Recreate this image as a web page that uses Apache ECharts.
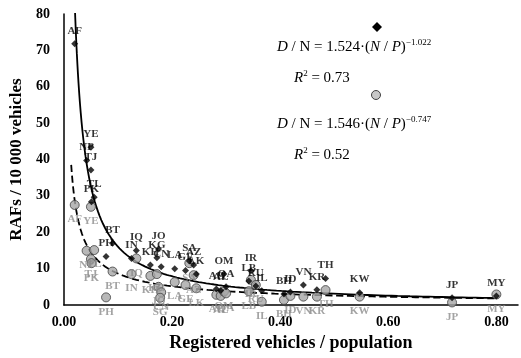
<!DOCTYPE html>
<html>
<head>
<meta charset="utf-8">
<script src="https://cdn.jsdelivr.net/npm/echarts@6/dist/echarts.min.js"></script>
<style>
  html, body { margin: 0; padding: 0; background: #fff; }
  #main { width: 521px; height: 358px; }
</style>
</head>
<body>
<div id="main"></div>
<script>
// country codes, vehicles per person, reported RAFs (black) and estimated (grey)
const codes = ['AF', 'YE', 'NP', 'TJ', 'TL', 'PK', 'BT', 'PH', 'IQ', 'IN', 'KH', 'JO', 'KG', 'CN', 'SG', 'LA', 'GE', 'SA', 'AZ', 'LK',
    'AE', 'AL', 'OM', 'QA', 'LB', 'IR', 'RU', 'IL', 'BH', 'ID', 'VN', 'KR', 'TH', 'KW', 'JP', 'MY']
const ratio = [0.020, 0.050, 0.042, 0.050, 0.056, 0.051, 0.090, 0.078, 0.134, 0.125, 0.160, 0.175, 0.172, 0.180, 0.178, 0.205, 0.225, 0.232, 0.240, 0.245,
    0.282, 0.290, 0.296, 0.300, 0.342, 0.346, 0.355, 0.366, 0.407, 0.419, 0.443, 0.468, 0.484, 0.547, 0.718, 0.800]
const rafBlack = [71.8, 43.4, 39.7, 37.1, 29.6, 28.4, 17.0, 13.3, 15.0, 12.8, 11.0, 15.4, 13.0, 10.5, null, 10.0, 9.5, 12.1, 11.0, 8.5,
    4.4, 4.0, 8.5, 5.0, 6.6, 9.4, 5.2, 3.9, 3.0, 3.6, 5.5, 4.2, 7.3, 3.4, 2.0, 2.5]
const rafGrey = [27.5, 27.0, 14.9, 12.6, 15.1, 11.5, 9.2, 2.1, 12.8, 8.5, 8.0, 5.0, 8.5, 3.5, 2.0, 6.3, 5.5, 11.5, 8.2, 4.6,
    2.8, 2.5, 3.7, 3.2, 3.8, 6.9, 5.5, 0.9, 1.4, 2.5, 2.3, 2.3, 4.1, 2.3, 0.7, 2.9]

// fitted power curves D/N = a * (N/P)^b
const fitBlack = { a: 1.524, b: -1.022, from: 0.0205 }
const fitGrey = { a: 1.546, b: -0.747, from: 0.0135 }

function curve(fit) {
    const pts = []
    const n = 120
    for (let i = 0; i <= n; i++) {
        // denser near the left where the curve is steep
        const t = i / n
        const x = fit.from + (0.8 - fit.from) * t * t
        pts.push([x, fit.a * Math.pow(x, fit.b)])
    }
    return pts
}

const serif = 'Liberation Serif, Times New Roman, serif'
const myChart = echarts.init(document.getElementById('main'))

const blackData = []
const greyData = []
codes.forEach((c, i) => {
    if (rafBlack[i] != null) blackData.push({ value: [ratio[i], rafBlack[i]], name: c })
    if (rafGrey[i] != null) greyData.push({ value: [ratio[i], rafGrey[i]], name: c })
})

const eqRich = {
    i: { fontFamily: serif, fontSize: 15, fontStyle: 'italic' },
    s: { fontFamily: serif, fontSize: 9, padding: [0, 0, 10, 0] },
}

const option = {
    animation: false,
    grid: { left: 62, right: 2, top: 14, bottom: 53 },
    xAxis: {
        type: 'value',
        min: 0,
        max: 0.84,
        interval: 0.2,
        splitLine: { show: false },
        axisTick: { show: false },
        axisLine: { lineStyle: { color: '#000', width: 1.5 } },
        axisLabel: {
            color: '#000',
            fontFamily: serif,
            fontWeight: 'bold',
            fontSize: 14,
            margin: 10,
            formatter: (v) => (Math.abs(v * 5 - Math.round(v * 5)) < 1e-6 ? v.toFixed(2) : ''),
        },
        name: 'Registered vehicles / population',
        nameLocation: 'middle',
        nameGap: 28,
        nameTextStyle: { color: '#000', fontFamily: serif, fontWeight: 'bold', fontSize: 18, verticalAlign: 'top' },
    },
    yAxis: {
        type: 'value',
        min: 0,
        max: 80,
        interval: 10,
        splitLine: { show: false },
        axisTick: { show: false },
        axisLine: { show: true, lineStyle: { color: '#000', width: 1.5 } },
        axisLabel: { color: '#000', fontFamily: serif, fontWeight: 'bold', fontSize: 14, margin: 14 },
        name: 'RAFs / 10 000 vehicles',
        nameLocation: 'middle',
        nameGap: 38,
        nameTextStyle: { color: '#000', fontFamily: serif, fontWeight: 'bold', fontSize: 17 },
    },
    series: [
        {
            type: 'line',
            data: curve(fitGrey),
            showSymbol: false,
            lineStyle: { color: '#000', width: 1.8, type: 'dashed' },
            z: 2,
        },
        {
            type: 'line',
            data: curve(fitBlack),
            showSymbol: false,
            lineStyle: { color: '#000', width: 1.8 },
            z: 2,
        },
        {
            type: 'scatter',
            data: greyData,
            symbol: 'circle',
            symbolSize: 9,
            itemStyle: { color: '#a6a6a6', borderColor: '#404040', borderWidth: 1 },
            label: {
                show: true,
                position: 'bottom',
                distance: 4,
                formatter: '{b}',
                color: '#8c8c8c',
                fontFamily: serif,
                fontWeight: 'bold',
                fontSize: 11,
            },
            z: 3,
        },
        {
            type: 'scatter',
            data: blackData,
            symbol: 'diamond',
            symbolSize: 7,
            itemStyle: { color: '#000' },
            label: {
                show: true,
                position: 'top',
                distance: 4,
                formatter: '{b}',
                color: '#000',
                fontFamily: serif,
                fontWeight: 'bold',
                fontSize: 11,
            },
            z: 4,
        },
    ],
    graphic: [
        { type: 'polygon', shape: { points: [[377, 22], [382, 27], [377, 32], [372, 27]] }, style: { fill: '#000' } },
        { type: 'circle', shape: { cx: 376, cy: 95, r: 4.5 }, style: { fill: '#c8c8c8', stroke: '#404040', lineWidth: 1 } },
        {
            type: 'text', left: 277, top: 38,
            style: { text: '{i|D} / N = 1.524·({i|N} / {i|P}){s|−1.022}', font: '15px ' + serif, fill: '#000', rich: eqRich },
        },
        {
            type: 'text', left: 294, top: 69,
            style: { text: '{i|R}{s|2} = 0.73', font: '15px ' + serif, fill: '#000', rich: eqRich },
        },
        {
            type: 'text', left: 277, top: 115,
            style: { text: '{i|D} / N = 1.546·({i|N} / {i|P}){s|−0.747}', font: '15px ' + serif, fill: '#000', rich: eqRich },
        },
        {
            type: 'text', left: 294, top: 146,
            style: { text: '{i|R}{s|2} = 0.52', font: '15px ' + serif, fill: '#000', rich: eqRich },
        },
    ],
}

myChart.setOption(option)
</script>
</body>
</html>
